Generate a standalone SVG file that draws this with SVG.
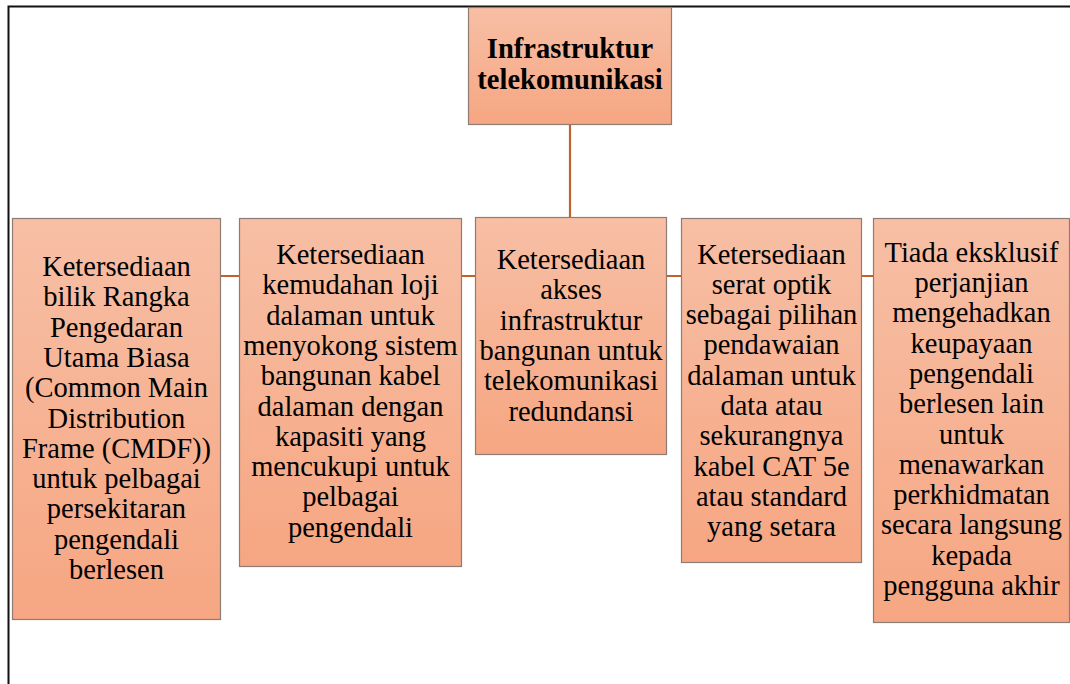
<svg xmlns="http://www.w3.org/2000/svg" width="1070" height="684" viewBox="0 0 1070 684">
  <defs>
    <linearGradient id="boxFill" x1="0" y1="0" x2="0" y2="1">
      <stop offset="0" stop-color="#f7bfa5"/>
      <stop offset="1" stop-color="#f6a682"/>
    </linearGradient>
    <style>
      .box { fill: url(#boxFill); stroke: #8e7d74; stroke-width: 1.2; }
      .wire { stroke: #c0622a; stroke-width: 2.2; fill: none; }
      .frame { stroke: #111; stroke-width: 2; fill: none; }
    </style>
  </defs>

  <rect width="1070" height="684" fill="#fff"/>

  <!-- page frame -->
  <path class="frame" d="M8.5,684 V6.5 H1070"/>

  <!-- connectors -->
  <g id="connectors">
    <line class="wire" x1="570" y1="125" x2="570" y2="218"/>
    <line class="wire" x1="116" y1="276" x2="972" y2="276"/>
  </g>

  <!-- root -->
  <g id="root">
    <rect class="box" x="468.5" y="7.5" width="203" height="117"/>
    <text x="570" y="58" font-family="Liberation Serif" font-size="28.5" font-weight="bold" text-anchor="middle">Infrastruktur</text>
    <text x="570" y="89" font-family="Liberation Serif" font-size="28.5" font-weight="bold" text-anchor="middle">telekomunikasi</text>
  </g>

  <g id="cmdf">
    <rect class="box" x="12.5" y="218.5" width="208" height="401"/>
    <text x="116.5" y="276" font-family="Liberation Serif" font-size="28.5" text-anchor="middle">Ketersediaan</text>
    <text x="116.5" y="306.3" font-family="Liberation Serif" font-size="28.5" text-anchor="middle">bilik Rangka</text>
    <text x="116.5" y="336.6" font-family="Liberation Serif" font-size="28.5" text-anchor="middle">Pengedaran</text>
    <text x="116.5" y="366.9" font-family="Liberation Serif" font-size="28.5" text-anchor="middle">Utama Biasa</text>
    <text x="116.5" y="397.2" font-family="Liberation Serif" font-size="28.5" text-anchor="middle">(Common Main</text>
    <text x="116.5" y="427.5" font-family="Liberation Serif" font-size="28.5" text-anchor="middle">Distribution</text>
    <text x="116.5" y="457.8" font-family="Liberation Serif" font-size="28.5" text-anchor="middle">Frame (CMDF))</text>
    <text x="116.5" y="488.1" font-family="Liberation Serif" font-size="28.5" text-anchor="middle">untuk pelbagai</text>
    <text x="116.5" y="518.4" font-family="Liberation Serif" font-size="28.5" text-anchor="middle">persekitaran</text>
    <text x="116.5" y="548.7" font-family="Liberation Serif" font-size="28.5" text-anchor="middle">pengendali</text>
    <text x="116.5" y="579" font-family="Liberation Serif" font-size="28.5" text-anchor="middle">berlesen</text>
  </g>

  <g id="loji">
    <rect class="box" x="239.5" y="218.5" width="222" height="348"/>
    <text x="350.5" y="264" font-family="Liberation Serif" font-size="28.5" text-anchor="middle">Ketersediaan</text>
    <text x="350.5" y="294.3" font-family="Liberation Serif" font-size="28.5" text-anchor="middle">kemudahan loji</text>
    <text x="350.5" y="324.6" font-family="Liberation Serif" font-size="28.5" text-anchor="middle">dalaman untuk</text>
    <text x="350.5" y="354.9" font-family="Liberation Serif" font-size="28.5" text-anchor="middle">menyokong sistem</text>
    <text x="350.5" y="385.2" font-family="Liberation Serif" font-size="28.5" text-anchor="middle">bangunan kabel</text>
    <text x="350.5" y="415.5" font-family="Liberation Serif" font-size="28.5" text-anchor="middle">dalaman dengan</text>
    <text x="350.5" y="445.8" font-family="Liberation Serif" font-size="28.5" text-anchor="middle">kapasiti yang</text>
    <text x="350.5" y="476.1" font-family="Liberation Serif" font-size="28.5" text-anchor="middle">mencukupi untuk</text>
    <text x="350.5" y="506.4" font-family="Liberation Serif" font-size="28.5" text-anchor="middle">pelbagai</text>
    <text x="350.5" y="536.7" font-family="Liberation Serif" font-size="28.5" text-anchor="middle">pengendali</text>
  </g>

  <g id="akses">
    <rect class="box" x="475.5" y="217.5" width="191" height="237"/>
    <text x="571" y="269" font-family="Liberation Serif" font-size="28.5" text-anchor="middle">Ketersediaan</text>
    <text x="571" y="299.3" font-family="Liberation Serif" font-size="28.5" text-anchor="middle">akses</text>
    <text x="571" y="329.6" font-family="Liberation Serif" font-size="28.5" text-anchor="middle">infrastruktur</text>
    <text x="571" y="359.9" font-family="Liberation Serif" font-size="28.5" text-anchor="middle">bangunan untuk</text>
    <text x="571" y="390.2" font-family="Liberation Serif" font-size="28.5" text-anchor="middle">telekomunikasi</text>
    <text x="571" y="420.5" font-family="Liberation Serif" font-size="28.5" text-anchor="middle">redundansi</text>
  </g>

  <g id="optik">
    <rect class="box" x="681.5" y="218.5" width="180" height="344"/>
    <text x="771.5" y="263.5" font-family="Liberation Serif" font-size="28.5" text-anchor="middle">Ketersediaan</text>
    <text x="771.5" y="293.8" font-family="Liberation Serif" font-size="28.5" text-anchor="middle">serat optik</text>
    <text x="771.5" y="324.1" font-family="Liberation Serif" font-size="28.5" text-anchor="middle">sebagai pilihan</text>
    <text x="771.5" y="354.4" font-family="Liberation Serif" font-size="28.5" text-anchor="middle">pendawaian</text>
    <text x="771.5" y="384.7" font-family="Liberation Serif" font-size="28.5" text-anchor="middle">dalaman untuk</text>
    <text x="771.5" y="415" font-family="Liberation Serif" font-size="28.5" text-anchor="middle">data atau</text>
    <text x="771.5" y="445.3" font-family="Liberation Serif" font-size="28.5" text-anchor="middle">sekurangnya</text>
    <text x="771.5" y="475.6" font-family="Liberation Serif" font-size="28.5" text-anchor="middle">kabel CAT 5e</text>
    <text x="771.5" y="505.9" font-family="Liberation Serif" font-size="28.5" text-anchor="middle">atau standard</text>
    <text x="771.5" y="536.2" font-family="Liberation Serif" font-size="28.5" text-anchor="middle">yang setara</text>
  </g>

  <g id="eksklusif">
    <rect class="box" x="873.5" y="218.5" width="196" height="404"/>
    <text x="971.5" y="261.7" font-family="Liberation Serif" font-size="28.5" text-anchor="middle">Tiada eksklusif</text>
    <text x="971.5" y="292" font-family="Liberation Serif" font-size="28.5" text-anchor="middle">perjanjian</text>
    <text x="971.5" y="322.3" font-family="Liberation Serif" font-size="28.5" text-anchor="middle">mengehadkan</text>
    <text x="971.5" y="352.6" font-family="Liberation Serif" font-size="28.5" text-anchor="middle">keupayaan</text>
    <text x="971.5" y="382.9" font-family="Liberation Serif" font-size="28.5" text-anchor="middle">pengendali</text>
    <text x="971.5" y="413.2" font-family="Liberation Serif" font-size="28.5" text-anchor="middle">berlesen lain</text>
    <text x="971.5" y="443.5" font-family="Liberation Serif" font-size="28.5" text-anchor="middle">untuk</text>
    <text x="971.5" y="473.8" font-family="Liberation Serif" font-size="28.5" text-anchor="middle">menawarkan</text>
    <text x="971.5" y="504.1" font-family="Liberation Serif" font-size="28.5" text-anchor="middle">perkhidmatan</text>
    <text x="971.5" y="534.4" font-family="Liberation Serif" font-size="28.5" text-anchor="middle">secara langsung</text>
    <text x="971.5" y="564.7" font-family="Liberation Serif" font-size="28.5" text-anchor="middle">kepada</text>
    <text x="971.5" y="595" font-family="Liberation Serif" font-size="28.5" text-anchor="middle">pengguna akhir</text>
  </g>
</svg>
